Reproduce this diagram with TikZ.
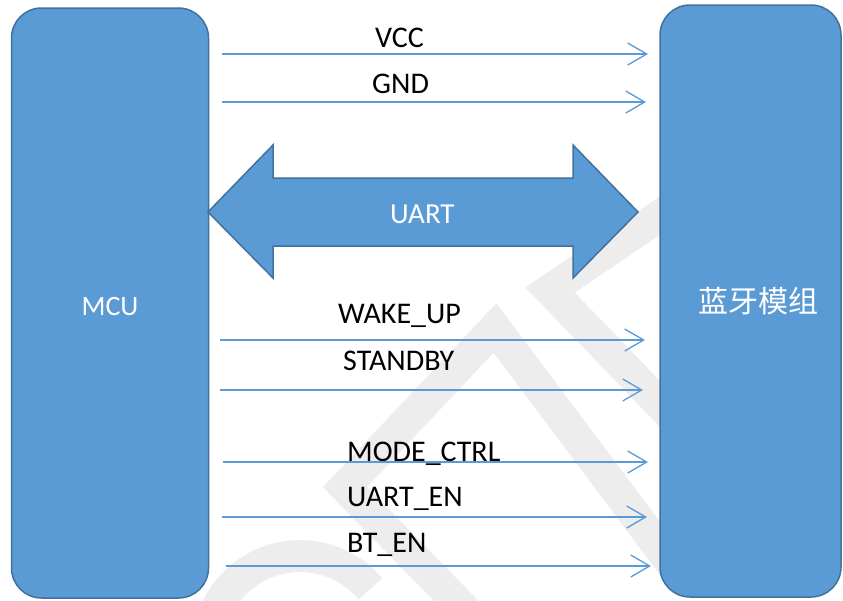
\documentclass[tikz,border=0pt]{standalone}
\usepackage{fontspec}
\setmainfont{Carlito}
\newfontfamily\cjk{Noto Sans CJK SC}
\usetikzlibrary{arrows.meta}
\definecolor{boxfill}{HTML}{5B9BD5}
\definecolor{boxline}{HTML}{41719C}
\definecolor{sigline}{HTML}{5B9BD5}
\definecolor{wmark}{HTML}{EDEDED}
\begin{document}
\begin{tikzpicture}[x=1pt,y=-1pt,
  block/.style={draw=boxline, fill=boxfill, line width=1.5pt, rounded corners=30pt, inner sep=0pt},
  sig/.style={draw=sigline, line width=1.3pt, -{Straight Barb[length=19pt,width=22pt,line width=1.3pt]}},
  lbl/.style={anchor=base west, inner sep=0pt, font=\fontsize{30}{32}\selectfont, text=black},
  wlbl/.style={inner sep=0pt, text=white},
  wm/.style={draw=wmark, line width=32pt, line join=miter}]
\useasboundingbox (0,0) rectangle (843,600);
\clip (0,0) rectangle (843,600);
% watermark
\draw[wm] (720,175) -- (550,290) -- (690,435);
\draw[wm] (470,615) -- (345,487) -- (495,328) -- (680,575);
\draw[wm] (300,648) ++(205:92) arc[start angle=205, end angle=320, radius=92];
% blocks
\node[block, minimum width=197pt, minimum height=590pt] (mcu) at (110,303) {};
\node[block, minimum width=181pt, minimum height=592pt] (bt) at (750.5,301) {};
\node[wlbl, anchor=base, font=\fontsize{28}{30}\selectfont] (mcut) at (110,315) {MCU};
\node[wlbl, anchor=center, font=\cjk\fontsize{30}{32}\selectfont] (btt) at (758,301) {蓝牙模组};
% UART double arrow
\draw[draw=boxline, fill=boxfill, line width=1.5pt, line join=miter]
  (208,212) -- (273,145) -- (273,178) -- (573,178) -- (573,145) -- (638,212)
  -- (573,278) -- (573,246) -- (273,246) -- (273,278) -- cycle;
\node[wlbl, anchor=base west, font=\fontsize{29}{32}\selectfont] (uartt) at (390,223) {UART};
% signal coordinates
\coordinate (vccS) at (222,54);  \coordinate (vccE) at (648,54);
\coordinate (gndS) at (222,102); \coordinate (gndE) at (646,102);
\coordinate (wakS) at (220,340); \coordinate (wakE) at (645,340);
\coordinate (stbS) at (220,390); \coordinate (stbE) at (643,390);
\coordinate (modS) at (223,462); \coordinate (modE) at (648,462);
\coordinate (ueS)  at (222,517); \coordinate (ueE)  at (647,517);
\coordinate (btS)  at (226,566); \coordinate (btE)  at (651,566);
% labels
\node[lbl] (vcc) at (375,47) {VCC};
\node[lbl] (gnd) at (372,93) {GND};
\node[lbl] (wak) at (338,323) {WAKE\_UP};
\node[lbl] (stb) at (343,370) {STANDBY};
\node[lbl] (mod) at (347,461) {MODE\_CTRL};
\node[lbl] (ue)  at (347,506) {UART\_EN};
\node[lbl] (bte) at (347,552) {BT\_EN};
% signals
\draw[sig] (vccS) -- (vccE);
\draw[sig] (gndS) -- (gndE);
\draw[sig] (wakS) -- (wakE);
\draw[sig] (stbS) -- (stbE);
\draw[sig] (modS) -- (modE);
\draw[sig] (ueS) -- (ueE);
\draw[sig] (btS) -- (btE);
\end{tikzpicture}
\end{document}
